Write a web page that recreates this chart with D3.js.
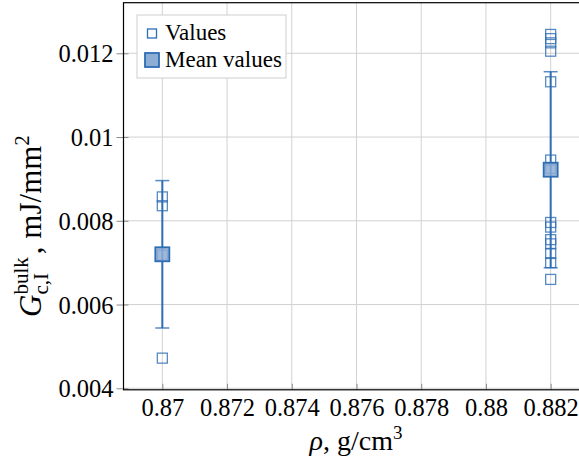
<!DOCTYPE html>
<html>
<head>
<meta charset="utf-8">
<script src="https://cdn.jsdelivr.net/npm/d3@7"></script>
<style>
  html, body { margin: 0; padding: 0; background: #fff; }
  svg { display: block; }
  text { font-family: "Liberation Serif", "Times New Roman", "DejaVu Serif", serif; fill: #000; }
</style>
</head>
<body>
<svg id="chart" width="579" height="464" font-family="Liberation Serif"></svg>
<script>
// Density groups (g/cm^3)
const densities = [0.87, 0.882];
// Individual measurements of G_c,I^bulk (mJ/mm^2) per density
const valuesAt087 = [0.00857, 0.00836, 0.00718, 0.00472];
const valuesAt0882 = [0.01245, 0.01235, 0.01225, 0.01205, 0.01132, 0.00945, 0.00925,
                      0.00796, 0.00785, 0.00755, 0.00745, 0.00722, 0.00700, 0.00660];
// Mean and standard deviation per density
const meanValues = [0.00720, 0.00922];
const stdValues = [0.00176, 0.00234];
// Axis ticks
const xTicks = [0.87, 0.872, 0.874, 0.876, 0.878, 0.88, 0.882];
const xTickLabels = ["0.87", "0.872", "0.874", "0.876", "0.878", "0.88", "0.882"];
const yTicks = [0.004, 0.006, 0.008, 0.01, 0.012];
const yTickLabels = ["0.004", "0.006", "0.008", "0.01", "0.012"];

const valueGroups = [valuesAt087, valuesAt0882];
const points = [];
valueGroups.forEach((vals, i) => vals.forEach(v => points.push({ x: densities[i], y: v })));
const means = densities.map((d, i) => ({ x: d, y: meanValues[i], sd: stdValues[i] }));

const svg = d3.select("#chart");
const pLeft = 123.5, pRight = 589.5, pTop = 2.7, pBottom = 389.8;

const x = d3.scaleLinear().domain([0.8688, 0.8832]).range([pLeft, pRight]);
const y = d3.scaleLinear().domain([0.003964, 0.013208]).range([pBottom, pTop]);

const blue = "#2d6db4";
const meanFill = "#8eadd5";
const gridColor = "#d2d2d2";
const tickColor = "#8a8a8a";
const tickFont = 24.5;

// Grid
const grid = svg.append("g");
grid.selectAll("line.gx").data(xTicks).join("line")
  .attr("x1", d => x(d)).attr("x2", d => x(d))
  .attr("y1", pTop).attr("y2", pBottom)
  .attr("stroke", gridColor).attr("stroke-width", 1);
grid.selectAll("line.gy").data(yTicks).join("line")
  .attr("x1", pLeft).attr("x2", pRight)
  .attr("y1", d => y(d)).attr("y2", d => y(d))
  .attr("stroke", gridColor).attr("stroke-width", 1);

// Axes with ticks (labels drawn via the axis generators)
const xAxis = d3.axisBottom(x).tickValues(xTicks)
  .tickFormat((d, i) => xTickLabels[i]).tickSizeInner(-6).tickSizeOuter(0).tickPadding(9);
const gx = svg.append("g").attr("transform", `translate(0,${pBottom})`).call(xAxis)
  .attr("font-family", "Liberation Serif");
gx.select(".domain").remove();
gx.selectAll(".tick line").attr("stroke", tickColor);
gx.selectAll(".tick text").attr("font-size", tickFont).attr("fill", "#000");

const yAxis = d3.axisLeft(y).tickValues(yTicks)
  .tickFormat((d, i) => yTickLabels[i]).tickSizeInner(7).tickSizeOuter(0).tickPadding(3);
const gy = svg.append("g").attr("transform", `translate(${pLeft},0)`).call(yAxis)
  .attr("font-family", "Liberation Serif");
gy.select(".domain").remove();
gy.selectAll(".tick line").attr("stroke", tickColor).attr("x2", 5).attr("x1", -7);
gy.selectAll(".tick text").attr("font-size", tickFont).attr("fill", "#000").attr("dy", "0.35em");

// Frame
svg.append("rect").attr("x", pLeft).attr("y", pTop)
  .attr("width", pRight - pLeft).attr("height", pBottom - pTop)
  .attr("fill", "none").attr("stroke", "#000").attr("stroke-width", 1.2);

// Individual values
const sq = 10;
svg.append("g").selectAll("rect").data(points).join("rect")
  .attr("x", d => x(d.x) - sq / 2).attr("y", d => y(d.y) - sq / 2)
  .attr("width", sq).attr("height", sq)
  .attr("fill", "none").attr("stroke", blue).attr("stroke-opacity", 0.8).attr("stroke-width", 1.3);

// Error bars (mean ± standard deviation)
const eb = svg.append("g");
eb.selectAll("line.v").data(means).join("line")
  .attr("x1", d => x(d.x)).attr("x2", d => x(d.x))
  .attr("y1", d => y(d.y + d.sd)).attr("y2", d => y(d.y - d.sd))
  .attr("stroke", blue).attr("stroke-width", 2);
const caps = [];
means.forEach(d => { caps.push({ x: d.x, y: d.y + d.sd }); caps.push({ x: d.x, y: d.y - d.sd }); });
eb.selectAll("line.c").data(caps).join("line")
  .attr("x1", d => x(d.x) - 7).attr("x2", d => x(d.x) + 7)
  .attr("y1", d => y(d.y)).attr("y2", d => y(d.y))
  .attr("stroke", blue).attr("stroke-opacity", 0.8).attr("stroke-width", 1.5);

// Mean markers
const msq = 14;
svg.append("g").selectAll("rect").data(means).join("rect")
  .attr("x", d => x(d.x) - msq / 2).attr("y", d => y(d.y) - msq / 2)
  .attr("width", msq).attr("height", msq)
  .attr("fill", meanFill).attr("fill-opacity", 0.85)
  .attr("stroke", blue).attr("stroke-width", 1.8);

// Legend
const lg = svg.append("g");
lg.append("rect").attr("x", 137).attr("y", 15).attr("width", 149).attr("height", 63)
  .attr("fill", "#fff").attr("stroke", "#cfcfcf").attr("stroke-width", 1);
lg.append("rect").attr("x", 147.5).attr("y", 29).attr("width", 9).attr("height", 9)
  .attr("fill", "none").attr("stroke", blue).attr("stroke-width", 1.3);
lg.append("text").attr("x", 165).attr("y", 40).attr("font-size", 23).text("Values");
lg.append("rect").attr("x", 145).attr("y", 53).attr("width", 14).attr("height", 14)
  .attr("fill", meanFill).attr("stroke", blue).attr("stroke-width", 1.8);
lg.append("text").attr("x", 165).attr("y", 67).attr("font-size", 23).text("Mean values");

// X axis label: ρ, g/cm³
const xl = svg.append("text").attr("x", 356).attr("y", 450).attr("text-anchor", "middle").attr("font-size", 28);
xl.append("tspan").attr("font-style", "italic").text("ρ");
xl.append("tspan").text(", g/cm");
xl.append("tspan").attr("font-size", 19).attr("dy", -11).text("3");

// Y axis label: G_{c,I}^{bulk}, mJ/mm²  (sub- and superscript stacked)
const fs = 31, sfs = 21;
function measure(str, size, italic) {
  const t = svg.append("text").attr("font-size", size).attr("font-style", italic ? "italic" : "normal").text(str);
  const w = t.node().getComputedTextLength();
  t.remove();
  return w;
}
const wSup = measure("bulk", sfs), wSub = measure("c,I", sfs);
const yl = svg.append("text").attr("font-size", fs).attr("text-anchor", "middle")
  .attr("transform", "translate(41,226) rotate(-90)");
yl.append("tspan").attr("font-style", "italic").text("G");
yl.append("tspan").attr("font-size", sfs).attr("dy", -13).text("bulk");
yl.append("tspan").attr("font-size", sfs).attr("dx", -wSup).attr("dy", 20).text("c,I");
yl.append("tspan").attr("dx", Math.max(0, wSup - wSub) + 3).attr("dy", -7).text(", mJ/mm");
yl.append("tspan").attr("font-size", sfs).attr("dy", -12).text("2");
</script>
</body>
</html>
